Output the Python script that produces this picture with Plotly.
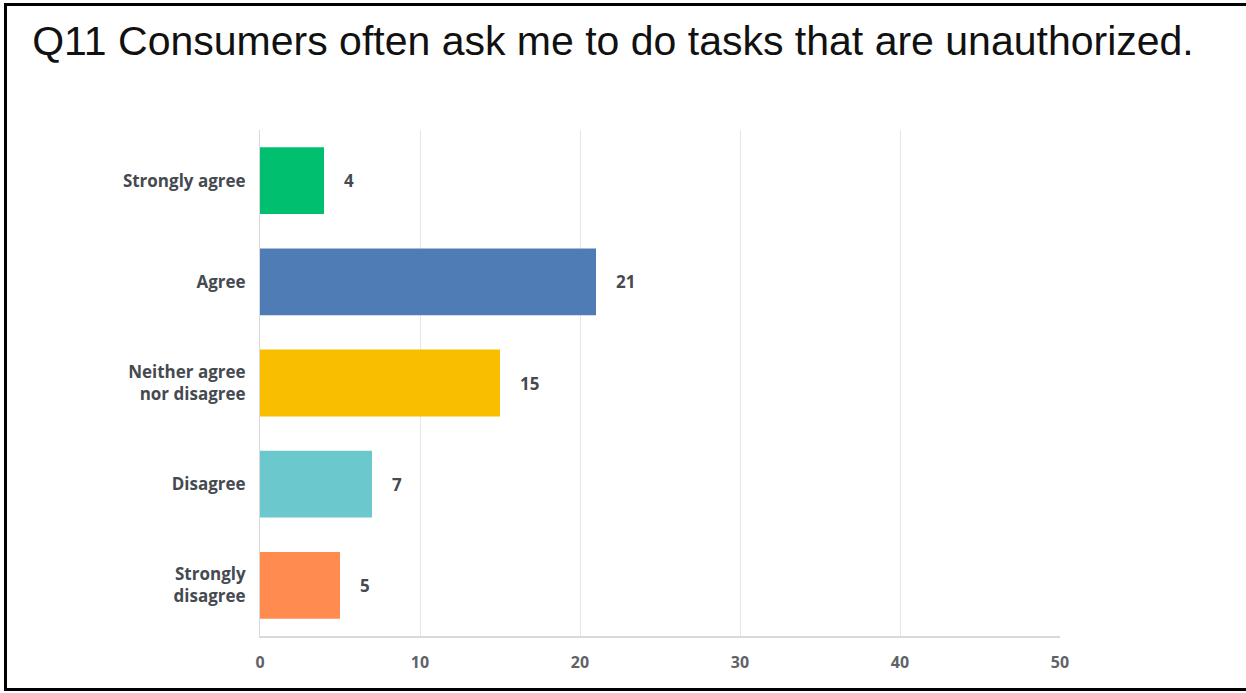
import plotly.graph_objects as go

# Survey responses
categories = ["Strongly agree", "Agree", "Neither agree<br>nor disagree", "Disagree", "Strongly<br>disagree"]
counts = [4, 21, 15, 7, 5]
colors = ["#00BF6F", "#507CB6", "#F9BE00", "#6BC8CD", "#FF8B4F"]
x_ticks = [0, 10, 20, 30, 40, 50]
title_text = "Q11 Consumers often ask me to do tasks that are unauthorized."

W, H = 1246, 693
ML, MR, MT, MB = 260, 186, 130, 57
plot_w = W - ML - MR
plot_h = H - MT - MB


def px_to_paper_x(px):
    return (px - ML) / plot_w


def px_to_paper_y(py):
    return (H - MB - py) / plot_h


label_family = "'Open Sans', sans-serif"
label_font = dict(family=label_family, size=17, color="#454a50", weight="bold")

fig = go.Figure(
    go.Bar(
        x=counts,
        y=categories,
        orientation="h",
        marker=dict(color=colors, line=dict(width=0)),
        width=0.66,
        hoverinfo="skip",
    )
)

# Value labels placed just right of each bar
for cat, val in zip(categories, counts):
    fig.add_annotation(
        x=val, y=cat, text=str(val), showarrow=False,
        xanchor="left", xshift=18, font=label_font,
    )

# Outer frame
fig.add_shape(
    type="rect", xref="paper", yref="paper",
    x0=px_to_paper_x(5.5), x1=px_to_paper_x(W + 20),
    y0=px_to_paper_y(689.5), y1=px_to_paper_y(4.5),
    line=dict(color="black", width=3), fillcolor="rgba(0,0,0,0)", layer="above",
)

fig.update_layout(
    width=W, height=H,
    margin=dict(l=ML, r=MR, t=MT, b=MB),
    paper_bgcolor="white", plot_bgcolor="white",
    showlegend=False,
    title=dict(
        text=title_text, x=613 / W, xref="container",
        xanchor="center", y=1 - 41 / H, yref="container", yanchor="middle",
        font=dict(family="Liberation Sans, Arial, sans-serif", size=41, color="#111111"),
    ),
    xaxis=dict(
        range=[0, 50], tickvals=x_ticks, showgrid=True, gridcolor="#e6e6e6", gridwidth=1,
        zeroline=False, showline=True, linecolor="#d9d9d9", linewidth=2,
        ticks="", ticklabelstandoff=11,
        tickfont=dict(family=label_family, size=16, color="#5f6368", weight="bold"),
        fixedrange=True,
    ),
    yaxis=dict(
        categoryorder="array", categoryarray=categories[::-1],
        showgrid=False, zeroline=False, showline=True, linecolor="#d9d9d9", linewidth=1,
        ticks="", ticklabelstandoff=10,
        tickfont=dict(family=label_family, size=17, color="#454a50", weight="bold"),
        fixedrange=True,
    ),
)

fig.write_html("out.html")
